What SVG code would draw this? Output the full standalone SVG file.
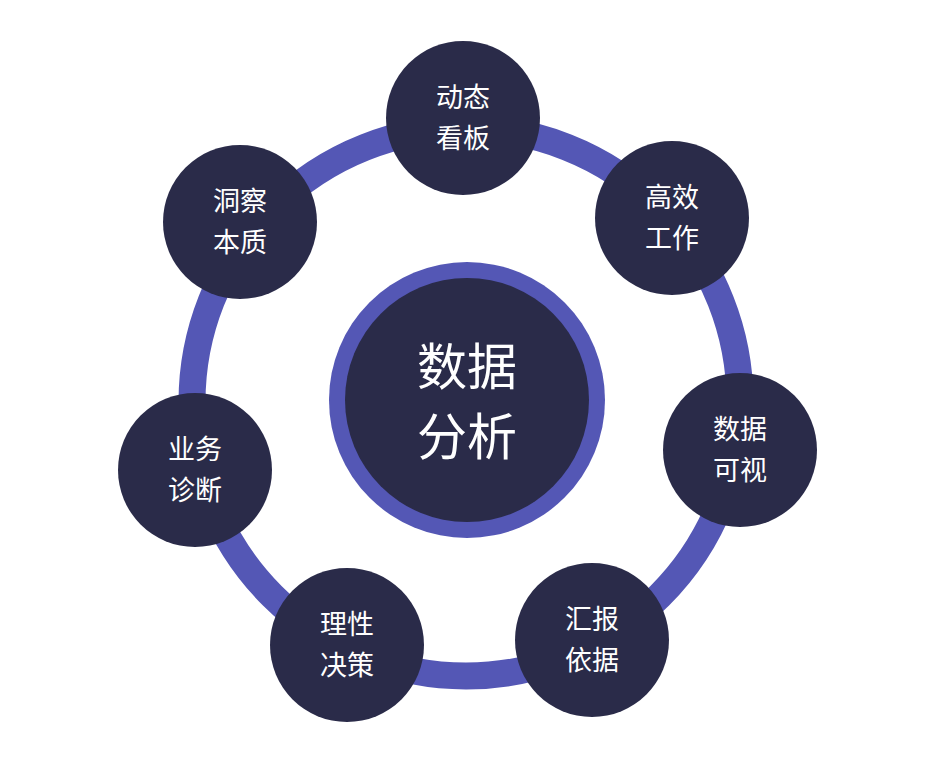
<svg xmlns="http://www.w3.org/2000/svg" width="935" height="765" viewBox="0 0 935 765">
<style>
.n{fill:#2a2b49}
.t{fill:#fff;font-family:"Noto Sans CJK SC",sans-serif;font-size:27px;text-anchor:middle}
.c{fill:#fff;font-family:"Noto Sans CJK SC",sans-serif;font-size:50px;text-anchor:middle}
</style>
<rect width="935" height="765" fill="#fff"/>
<g id="connectors">
<circle cx="466" cy="402" r="274" fill="none" stroke="#5457b5" stroke-width="27"/>
</g>
<g id="center">
<circle cx="467" cy="400" r="138" fill="#5457b5"/>
<circle cx="467" cy="400" r="122" class="n"/>
<text class="c" x="467" y="385">数据</text>
<text class="c" x="467" y="455">分析</text>
</g>
<g id="n1"><circle cx="463" cy="118" r="77" class="n"/><text class="t" x="463" y="107">动态</text><text class="t" x="463" y="148">看板</text></g>
<g id="n2"><circle cx="672" cy="218" r="77" class="n"/><text class="t" x="672" y="207">高效</text><text class="t" x="672" y="248">工作</text></g>
<g id="n3"><circle cx="740" cy="450" r="77" class="n"/><text class="t" x="740" y="439">数据</text><text class="t" x="740" y="480">可视</text></g>
<g id="n4"><circle cx="592" cy="640" r="77" class="n"/><text class="t" x="592" y="629">汇报</text><text class="t" x="592" y="670">依据</text></g>
<g id="n5"><circle cx="347" cy="645" r="77" class="n"/><text class="t" x="347" y="634">理性</text><text class="t" x="347" y="675">决策</text></g>
<g id="n6"><circle cx="195" cy="470" r="77" class="n"/><text class="t" x="195" y="459">业务</text><text class="t" x="195" y="500">诊断</text></g>
<g id="n7"><circle cx="240" cy="222" r="77" class="n"/><text class="t" x="240" y="211">洞察</text><text class="t" x="240" y="252">本质</text></g>
</svg>
